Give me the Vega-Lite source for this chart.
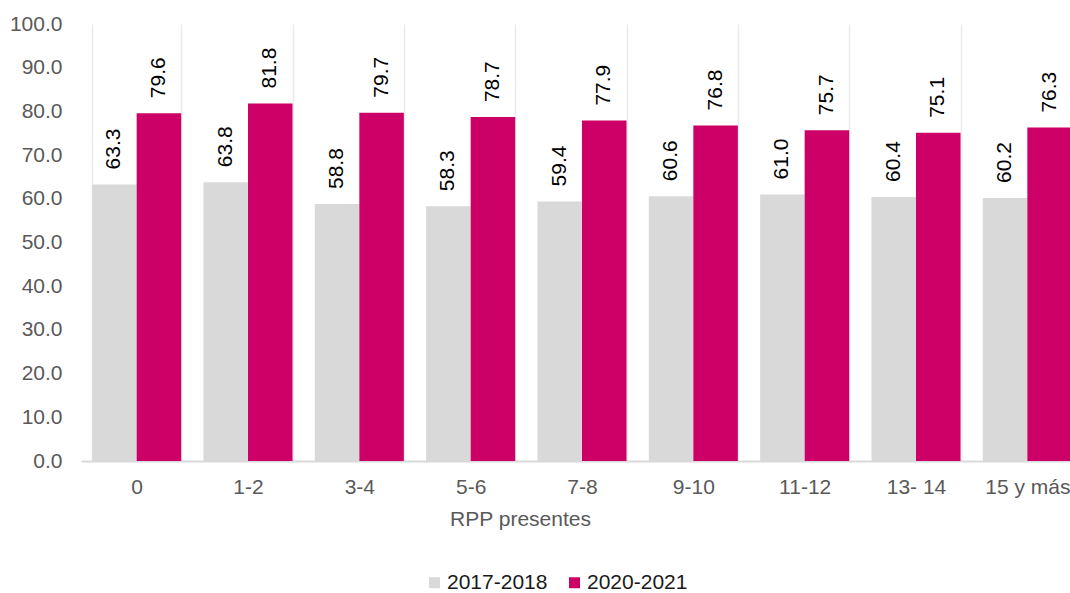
{
  "$schema": "https://vega.github.io/schema/vega-lite/v6.json",
  "width": 989,
  "height": 437,
  "autosize": {"type": "none"},
  "padding": {"left": 81, "top": 24, "right": 0, "bottom": 132},
  "background": "white",
  "config": {
    "view": {"stroke": null},
    "font": "Liberation Sans"
  },
  "data": {
    "values": [
      {"rpp": "0", "periodo": "2017-2018", "valor": 63.3},
      {"rpp": "0", "periodo": "2020-2021", "valor": 79.6},
      {"rpp": "1-2", "periodo": "2017-2018", "valor": 63.8},
      {"rpp": "1-2", "periodo": "2020-2021", "valor": 81.8},
      {"rpp": "3-4", "periodo": "2017-2018", "valor": 58.8},
      {"rpp": "3-4", "periodo": "2020-2021", "valor": 79.7},
      {"rpp": "5-6", "periodo": "2017-2018", "valor": 58.3},
      {"rpp": "5-6", "periodo": "2020-2021", "valor": 78.7},
      {"rpp": "7-8", "periodo": "2017-2018", "valor": 59.4},
      {"rpp": "7-8", "periodo": "2020-2021", "valor": 77.9},
      {"rpp": "9-10", "periodo": "2017-2018", "valor": 60.6},
      {"rpp": "9-10", "periodo": "2020-2021", "valor": 76.8},
      {"rpp": "11-12", "periodo": "2017-2018", "valor": 61.0},
      {"rpp": "11-12", "periodo": "2020-2021", "valor": 75.7},
      {"rpp": "13- 14", "periodo": "2017-2018", "valor": 60.4},
      {"rpp": "13- 14", "periodo": "2020-2021", "valor": 75.1},
      {"rpp": "15 y más", "periodo": "2017-2018", "valor": 60.2},
      {"rpp": "15 y más", "periodo": "2020-2021", "valor": 76.3}
    ]
  },
  "encoding": {
    "x": {
      "field": "rpp",
      "type": "nominal",
      "sort": null,
      "scale": {"range": [0, 1002], "paddingInner": 0.2, "paddingOuter": 0.1},
      "axis": {
        "title": "RPP presentes",
        "titleFont": "Liberation Sans",
        "titleFontSize": 21,
        "titleFontWeight": "normal",
        "titleColor": "#595959",
        "titleX": 439,
        "titleAlign": "center",
        "titleAnchor": "start",
        "titlePadding": 11,
        "labelFont": "Liberation Sans",
        "labelFontSize": 21,
        "labelColor": "#595959",
        "labelAngle": 0,
        "labelPadding": 15,
        "ticks": false,
        "domainColor": "#d9d9d9",
        "domainWidth": 2,
        "grid": true,
        "gridColor": "#ebebeb",
        "gridWidth": 1.5,
        "tickBand": "extent"
      }
    },
    "xOffset": {"field": "periodo", "type": "nominal", "scale": {"paddingInner": 0, "paddingOuter": 0}},
    "y": {
      "field": "valor",
      "type": "quantitative",
      "scale": {"domain": [0, 100]},
      "axis": {
        "title": null,
        "values": [0, 10, 20, 30, 40, 50, 60, 70, 80, 90, 100],
        "format": ".1f",
        "labelFont": "Liberation Sans",
        "labelFontSize": 21,
        "labelColor": "#595959",
        "labelPadding": 19,
        "ticks": false,
        "domain": false,
        "grid": false
      }
    }
  },
  "layer": [
    {
      "mark": {"type": "bar", "clip": false},
      "encoding": {
        "color": {
          "field": "periodo",
          "type": "nominal",
          "scale": {"domain": ["2017-2018", "2020-2021"], "range": ["#d9d9d9", "#cc0066"]},
          "legend": {
            "title": null,
            "orient": "none",
            "legendX": 343,
            "legendY": 548,
            "direction": "horizontal",
            "symbolType": "square",
            "symbolSize": 121,
            "symbolStrokeWidth": 0,
            "labelFont": "Liberation Sans",
            "labelFontSize": 21,
            "labelColor": "#1a1a1a",
            "labelOffset": 2,
            "columnPadding": 16
          }
        }
      }
    },
    {
      "mark": {
        "type": "text",
        "angle": 270,
        "align": "left",
        "baseline": "middle",
        "dx": 15,
        "font": "Liberation Sans",
        "fontSize": 21,
        "color": "#000000"
      },
      "encoding": {
        "text": {"field": "valor", "type": "quantitative", "format": ".1f"}
      }
    }
  ]
}
